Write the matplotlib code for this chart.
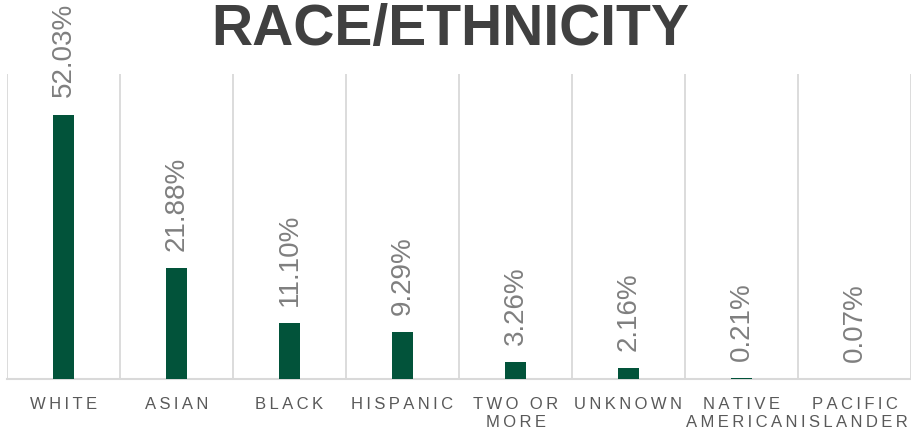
import matplotlib
matplotlib.use('agg')
import matplotlib.pyplot as plt

# share of students by race/ethnicity, in percent
groups = ['WHITE', 'ASIAN', 'BLACK', 'HISPANIC', 'TWO OR\nMORE', 'UNKNOWN',
          'NATIVE\nAMERICAN', 'PACIFIC\nISLANDER']
shares = [52.03, 21.88, 11.10, 9.29, 3.26, 2.16, 0.21, 0.07]

GREEN = '#02533a'
GRID = '#d9d9d9'


def spaced(label):
    # widen the tick labels with thin spaces between the letters
    return '\n'.join('\u2009'.join(line) for line in label.split('\n'))


plt.rcParams['font.family'] = ['Liberation Sans', 'DejaVu Sans']

fig = plt.figure(figsize=(9.11, 4.35), dpi=100)
ax = fig.add_axes([7 / 911, 55 / 435, 904 / 911, 305 / 435])

x = range(len(groups))
bars = ax.bar(x, shares, width=0.18, color=GREEN, zorder=3)

for b, v in zip(bars, shares):
    ax.annotate('%.2f%%' % v, (b.get_x() + b.get_width() / 2, v),
                xytext=(0, 13), textcoords='offset points',
                rotation=90, ha='center', va='bottom',
                fontsize=20, color='#7f7f7f', annotation_clip=False)

ax.set_xlim(-0.5, len(groups) - 0.5)
ax.set_ylim(0, 60)

# vertical separators between the categories
for i in range(len(groups) + 1):
    ax.axvline(i - 0.5, color=GRID, lw=1.3, zorder=1)

for s in ['top', 'left', 'right']:
    ax.spines[s].set_visible(False)
ax.spines['bottom'].set_color(GRID)
ax.spines['bottom'].set_linewidth(1.5)

ax.set_yticks([])
ax.set_xticks(list(x))
ax.set_xticklabels([spaced(g) for g in groups], fontsize=12, color='#595959',
                   linespacing=1.25)
ax.tick_params(axis='x', length=0, pad=12)

fig.text(0.494, 1 - 45 / 435, 'RACE/ETHNICITY', ha='center', va='baseline',
         fontsize=41, fontweight='bold', color='#404040')

plt.savefig('out.png', dpi=100)
plt.close()
